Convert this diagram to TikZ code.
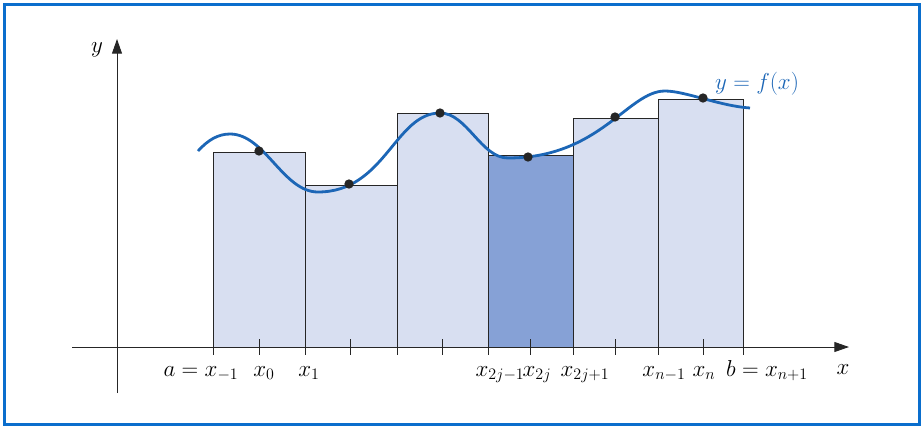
\documentclass[tikz,border=0pt]{standalone}
\usepackage{tikz}
\usepackage{xcolor}
\usetikzlibrary{arrows.meta}

\definecolor{framebl}{RGB}{10,110,205}
\definecolor{celllight}{RGB}{216,223,241}
\definecolor{celldark}{RGB}{134,161,214}
\definecolor{curvebl}{RGB}{28,102,182}

\begin{document}
\begin{tikzpicture}[
    x=0.75pt, y=-0.75pt,
    >={Triangle[length=11pt,width=7.5pt]},
    font=\fontsize{17}{20}\selectfont,
    cell/.style     ={draw=black!85, line width=0.6pt, fill=celllight},
    darkcell/.style ={cell, fill=celldark},
    axisline/.style ={->, line width=0.7pt, black!85},
    tickline/.style ={line width=0.6pt, black!85},
    curveline/.style={line width=2.1pt, curvebl},
    dot/.style      ={circle, fill=black!85, inner sep=0pt, minimum size=7pt},
    lab/.style      ={anchor=base, inner sep=0pt}
]
\useasboundingbox (0,0) rectangle (924,429);

% --- frame ---
\draw[framebl, line width=2.25pt] (4.5,4.5) rectangle (919.5,424.5);

% --- rectangles ---
\foreach \l/\r/\t in {213/305/152, 305/397/185, 397/488/113, 573/658/118, 658/743/99}
    \draw[cell] (\l,347) rectangle (\r,\t);
\draw[darkcell] (488,347) rectangle (573,155);

% --- axes ---
\draw[axisline] (117,393) -- (117,39);
\draw[axisline] (72,347) -- (849,347);
\node[lab] (ylab) at (97,52) {$y$};
\node[lab] (xlab) at (843,374) {$x$};

% --- ticks ---
\foreach \p in {213,259,305,350,397,442,488,530,573,615,658,703,743}
    \draw[tickline] (\p,339) -- (\p,355);

% --- curve ---
\draw[curveline] (198,151)
    .. controls (208,140) and (218,134) .. (230,134)
    .. controls (265,134) and (283,192) .. (318,192)
    .. controls (385,192) and (395,113) .. (440,113)
    .. controls (467,113) and (481,158) .. (508,158)
    .. controls (600,158) and (628,91) .. (665,91)
    .. controls (685,91) and (720,106) .. (750,108);
\node[lab, text=curvebl] (flab) at (757,89) {$y = f(x)$};

% --- sample points ---
\foreach \i/\px/\py in {1/259/151, 2/349/184, 3/440/113, 4/528/157, 5/615/117, 6/703/98}
    \node[dot] (p\i) at (\px,\py) {};

% --- labels under the axis ---
\node[lab] (la)  at (201,376) {$a = x_{-1}$};
\node[lab] (l0)  at (264,376) {$x_0$};
\node[lab] (l1)  at (309,376) {$x_1$};
\node[lab] (l2a) at (500,376) {$x_{2j-1}$};
\node[lab] (l2b) at (537,376) {$x_{2j}$};
\node[lab] (l2c) at (585,376) {$x_{2j+1}$};
\node[lab] (lna) at (664,376) {$x_{n-1}$};
\node[lab] (lnb) at (704,376) {$x_n$};
\node[lab] (lb)  at (767,376) {$b = x_{n+1}$};

\end{tikzpicture}
\end{document}
